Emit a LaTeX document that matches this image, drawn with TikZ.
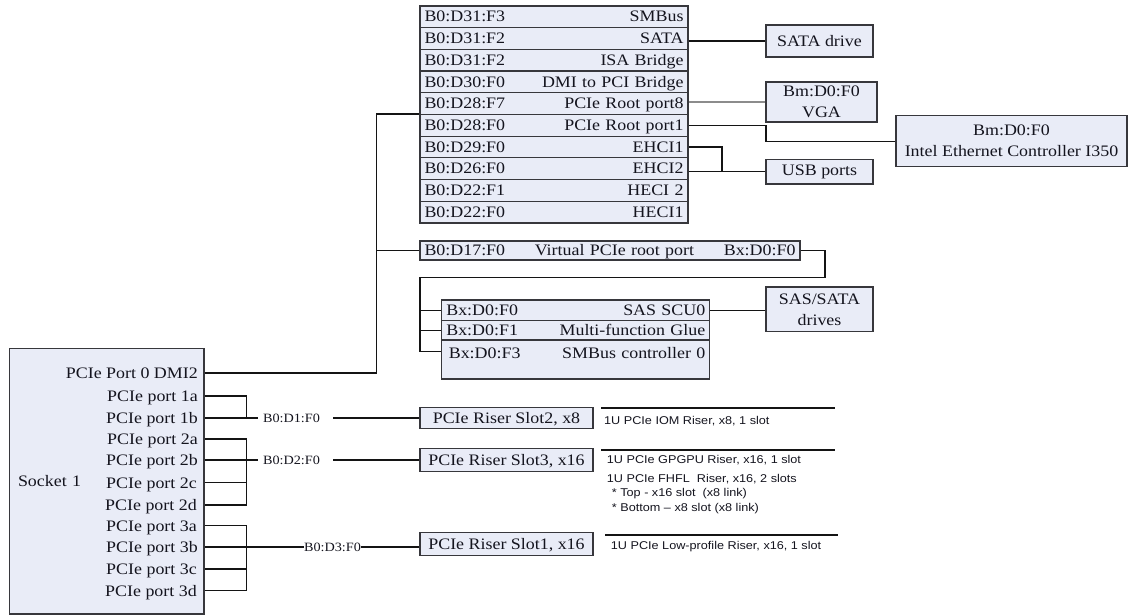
\documentclass[tikz,border=0pt]{standalone}
\usepackage{fontspec}
\setmainfont{Liberation Serif}[FakeStretch=1.12]
\newfontfamily\notefont{Liberation Sans}[FakeStretch=1.12]
\definecolor{boxfill}{RGB}{233,236,247}
\definecolor{boxline}{RGB}{55,55,60}
\definecolor{wirec}{RGB}{20,20,20}
\definecolor{wiregrayc}{RGB}{140,140,140}
\definecolor{txt}{RGB}{20,20,30}
\begin{document}
\begin{tikzpicture}[x=1pt,y=-1pt,
  every node/.style={text=txt},
  mainfont/.style={font=\fontsize{16}{21}\selectfont},
  box/.style={draw=boxline, fill=boxfill, line width=1.2pt, mainfont},
  row/.style={box, minimum height=21.7pt, text width=259pt, inner xsep=4.5pt, inner ysep=0pt, text height=16pt, text depth=5.7pt},
  rbox/.style={box, inner sep=0pt, align=center},
  riser/.style={box, inner sep=0pt, minimum width=173pt, text height=10.6pt, text depth=0pt},
  port/.style={anchor=east, inner sep=0pt, mainfont, text height=10.6pt, text depth=0pt},
  buslbl/.style={inner xsep=4.5pt, inner ysep=0pt, font=\fontsize{12.7}{15}\selectfont, text height=8.4pt, text depth=0pt},
  note/.style={anchor=west, inner sep=0pt, font=\notefont\fontsize{11.3}{13}\selectfont, text height=8.1pt, text depth=0pt},
  wire/.style={draw=wirec, line width=1.25pt},
  wiregray/.style={draw=wiregrayc, line width=1.25pt}
]
\useasboundingbox (0,0) rectangle (1128,615);

% ---------- top table ----------
\node[row] (t1)  at (554,16.85)  {B0:D31:F3\hfill SMBus};
\node[row] (t2)  at (554,38.55)  {B0:D31:F2\hfill SATA};
\node[row] (t3)  at (554,60.25)  {B0:D31:F2\hfill ISA Bridge};
\node[row] (t4)  at (554,81.95)  {B0:D30:F0\hfill DMI to PCI Bridge};
\node[row] (t5)  at (554,103.65) {B0:D28:F7\hfill PCIe Root port8};
\node[row] (t6)  at (554,125.35) {B0:D28:F0\hfill PCIe Root port1};
\node[row] (t7)  at (554,147.05) {B0:D29:F0\hfill EHCI1};
\node[row] (t8)  at (554,168.75) {B0:D26:F0\hfill EHCI2};
\node[row] (t9)  at (554,190.45) {B0:D22:F1\hfill HECI 2};
\node[row] (t10) at (554,212.15) {B0:D22:F0\hfill HECI1};

% ---------- right boxes ----------
\node[rbox, minimum width=107pt, minimum height=32pt] (sata) at (819.5,41) {SATA drive};
\node[rbox, minimum width=111pt, minimum height=40pt] (vga) at (821.5,102) {Bm:D0:F0\\VGA};
\node[rbox, minimum width=231pt, minimum height=51pt] (eth) at (1011.5,141.2) {Bm:D0:F0\\Intel Ethernet Controller I350};
\node[rbox, minimum width=107pt, minimum height=24.7pt] (usb) at (819.5,171.7) {USB ports};
\node[rbox, minimum width=107pt, minimum height=44.7pt] (sasd) at (819.5,309.3) {SAS/SATA\\drives};

% ---------- virtual root port ----------
\node[row, text width=371pt, minimum height=19pt, text height=14.8pt, text depth=4.2pt] (vp) at (610,250.5)
  {B0:D17:F0\hfill Virtual PCIe root port\hfill Bx:D0:F0};

% ---------- SAS table ----------
\node[row, minimum height=20.5pt, text height=15.5pt, text depth=5pt] (s1) at (575.8,310.25) {Bx:D0:F0\hfill SAS SCU0};
\node[row, minimum height=19.5pt, text height=15.05pt, text depth=4.45pt] (s2) at (575.8,330.25) {Bx:D0:F1\hfill Multi-function Glue};
\node[row, minimum height=39pt, text height=18.3pt, text depth=20.7pt] (s3) at (575.8,359.5) {\hspace{2.5pt}Bx:D0:F3\hfill SMBus controller 0\hspace{3pt}};

% ---------- socket ----------
\node[box, minimum width=194.7pt, minimum height=265.7pt, text width=177.3pt, inner xsep=8.7pt, inner ysep=0pt, align=left] (sock) at (106.65,481.15) {Socket 1};
\node[port] (p0)  at (198,373)   {PCIe Port 0 DMI2};
\node[port] (p1a) at (198,396)   {PCIe port 1a};
\node[port] (p1b) at (198,418)   {PCIe port 1b};
\node[port] (p2a) at (198,439)   {PCIe port 2a};
\node[port] (p2b) at (198,460)   {PCIe port 2b};
\node[port] (p2c) at (197,482.7) {PCIe port 2c};
\node[port] (p2d) at (197,505)   {PCIe port 2d};
\node[port] (p3a) at (197,525.7) {PCIe port 3a};
\node[port] (p3b) at (198,547)   {PCIe port 3b};
\node[port] (p3c) at (197,569)   {PCIe port 3c};
\node[port] (p3d) at (197,590.7) {PCIe port 3d};

% ---------- riser slots ----------
\node[riser, minimum height=21.6pt] (r2) at (506.5,418)   {PCIe Riser Slot2, x8};
\node[riser, minimum height=22.7pt] (r3) at (506.5,460)   {PCIe Riser Slot3, x16};
\node[riser, minimum height=22.5pt] (r1) at (506.5,544)   {PCIe Riser Slot1, x16};

% ---------- bus labels ----------
\node[buslbl] (d1) at (291.5,418) {B0:D1:F0};
\node[buslbl] (d2) at (291.5,460) {B0:D2:F0};
\node[buslbl, inner xsep=0.3pt] (d3) at (332.5,547) {B0:D3:F0};

% ---------- notes ----------
\node[note] (n1) at (604,420.7)   {1U PCIe IOM Riser, x8, 1 slot};
\node[note] (n2) at (606.7,459.3) {1U PCIe GPGPU Riser, x16, 1 slot};
\node[note] (n3) at (606.7,478.3) {1U PCIe FHFL\ \ Riser, x16, 2 slots};
\node[note] (n4) at (611.7,492.7) {* Top - x16 slot\ \ (x8 link)};
\node[note] (n5) at (611.7,507.3) {* Bottom – x8 slot (x8 link)};
\node[note] (n6) at (610.7,545)   {1U PCIe Low-profile Riser, x16, 1 slot};
\draw[wire] (601,408) -- (835,408);
\draw[wire] (601,450) -- (835,450);
\draw[wire] (605,535) -- (838,535);

% ---------- coordinates for bends ----------
\coordinate (bus) at (376.7,0);
\coordinate (j) at (246.7,0);
\coordinate (ebend) at (766,0);
\coordinate (ujoin) at (722,0);
\coordinate (vpr) at (825,277.7);
\coordinate (sbus) at (420,277.7);

% ---------- connectors: top ----------
\draw[wire] (t2.east |- sata.west) -- (sata.west);
\draw[wiregray] (t5.east |- vga.west) -- (vga.west);
\draw[wire] (t6.east) -- (ebend |- t6.east) |- (eth.west);
\draw[wire] (t7.east) -| (ujoin |- usb.west);
\draw[wire] (t8.east |- usb.west) -- (usb.west);

% ---------- DMI bus ----------
\draw[wire] (sock.east |- p0) -| (bus |- t6.north west) -- (t6.north west);
\draw[wire] (bus |- vp.west) -- (vp.west);

% ---------- virtual port to SAS ----------
\draw[wire] (vp.east) -| (vpr) -- (sbus) |- ([yshift=-12.3pt]s3.north west);
\draw[wire] (sbus |- s1.west) -- (s1.west);
\draw[wire] (sbus |- s2.west) -- (s2.west);
\draw[wire] (s1.east) -- (sasd.west |- s1.east);

% ---------- socket groups ----------
\draw[wire] (sock.east |- p1a) -| (j |- p1b);
\draw[wire] (sock.east |- p1b) -- (j |- p1b) -- (d1.west);
\draw[wire, shorten <=8.5pt] (d1.east) -- (r2.west |- d1.east);

\draw[wire] (sock.east |- p2a) -| (j |- p2d) -- (sock.east |- p2d);
\draw[wire] (sock.east |- p2b) -- (j |- p2b) -- (d2.west);
\draw[wire] (sock.east |- p2c) -- (j |- p2c);
\draw[wire, shorten <=8.5pt] (d2.east) -- (r3.west |- d2.east);

\draw[wire] (sock.east |- p3a) -| (j |- p3d) -- (sock.east |- p3d);
\draw[wire] (sock.east |- p3b) -- (d3.west);
\draw[wire] (sock.east |- p3c) -- (j |- p3c);
\draw[wire] (d3.east) -- (r1.west |- d3.east);
\end{tikzpicture}
\end{document}
